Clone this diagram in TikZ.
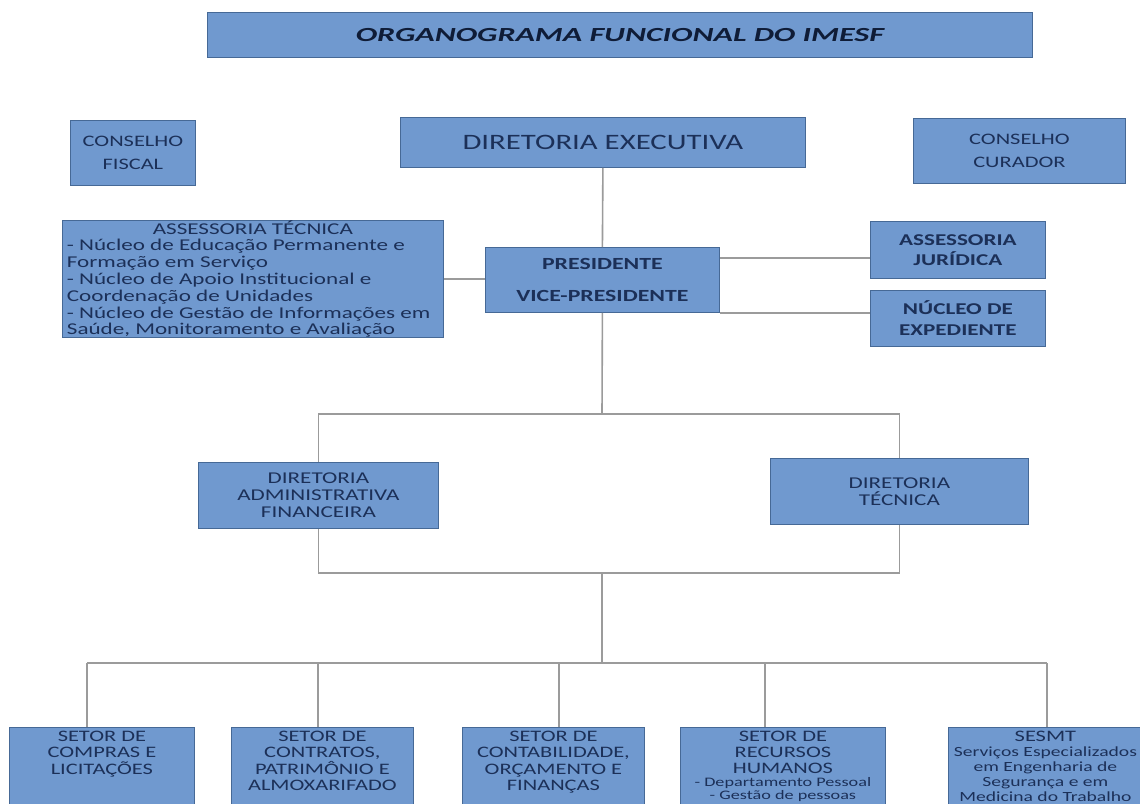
\documentclass[tikz,border=0pt]{standalone}
\usepackage{fontspec}
\setmainfont{Carlito}[FakeStretch=1.4]
\newfontfamily\ttlfont{Carlito}[FakeStretch=1.6]
\usetikzlibrary{calc}
\definecolor{boxfill}{RGB}{112,153,207}
\definecolor{boxline}{RGB}{70,105,150}
\definecolor{txt}{RGB}{28,48,88}
\definecolor{ttl}{RGB}{15,28,55}
\definecolor{conn}{RGB}{155,155,155}
\newcommand{\fs}[2]{\fontsize{#1}{#2}\selectfont}
\begin{document}
\begin{tikzpicture}[x=1pt,y=-1pt,
  bx/.style={draw=boxline, fill=boxfill, line width=0.8pt, inner sep=0pt,
    anchor=north west, text=txt, align=center},
  ln/.style={draw=conn, line width=1.6pt}]
\useasboundingbox (0,0) rectangle (1140,803);
\clip (0,0) rectangle (1140,803);
\fill[white] (0,0) rectangle (1140,803);

% top row
\node[bx, minimum width=825, minimum height=45, text=ttl,
  font=\ttlfont\fs{20}{24}\bfseries\itshape] (title) at (207,12) {ORGANOGRAMA FUNCIONAL DO IMESF};
\node[bx, minimum width=125, minimum height=65, font=\fs{16}{23}] (cf) at (70,120) {CONSELHO\\FISCAL};
\node[bx, minimum width=405, minimum height=50, font=\fs{22}{26}] (de) at (400,117) {DIRETORIA EXECUTIVA};
\node[bx, minimum width=212, minimum height=65, font=\fs{16}{23}] (cc) at (913,118) {CONSELHO\\CURADOR};

% second level
\node[bx, minimum width=381, minimum height=117, font=\fs{16.5}{16.8}] (at) at (62,220)
  {\parbox{372pt}{\centering ASSESSORIA TÉCNICA\par\raggedright
   - Núcleo de Educação Permanente e\\Formação em Serviço\\- Núcleo de Apoio Institucional e\\Coordenação de Unidades\\- Núcleo de Gestão de Informações em\\Saúde, Monitoramento e Avaliação}};
\node[bx, minimum width=234, minimum height=65, font=\fs{17}{20}\bfseries] (pres) at (485,247) {PRESIDENTE\\[12pt]VICE-PRESIDENTE};
\node[bx, minimum width=175, minimum height=57, font=\fs{16.5}{20}\bfseries] (aj) at (870,221) {ASSESSORIA\\JURÍDICA};
\node[bx, minimum width=175, minimum height=56, font=\fs{16.5}{21}\bfseries] (ne) at (870,290) {NÚCLEO DE\\EXPEDIENTE};

% directorates
\node[bx, minimum width=240, minimum height=66, font=\fs{16.5}{17}] (daf) at (198,462) {DIRETORIA\\ADMINISTRATIVA\\FINANCEIRA};
\node[bx, minimum width=258, minimum height=66, font=\fs{16.5}{17}] (dt) at (770,458) {DIRETORIA\\TÉCNICA};

% bottom row
\node[bx, font=\fs{16}{16.5}] (b1) at (9,727)
  {\parbox[c][95pt][t]{185pt}{\centering\vspace*{3.5pt}SETOR DE\\COMPRAS E\\LICITAÇÕES\par}};
\node[bx, font=\fs{16}{16.5}] (b2) at (231,727)
  {\parbox[c][95pt][t]{182pt}{\centering\vspace*{3.5pt}SETOR DE\\CONTRATOS,\\PATRIMÔNIO E\\ALMOXARIFADO\par}};
\node[bx, font=\fs{16}{16.5}] (b3) at (462,727)
  {\parbox[c][95pt][t]{182pt}{\centering\vspace*{3.5pt}SETOR DE\\CONTABILIDADE,\\ORÇAMENTO E\\FINANÇAS\par}};
\node[bx, font=\fs{16}{16.2}] (b4) at (680,727)
  {\parbox[c][95pt][t]{205pt}{\centering\vspace*{3.5pt}SETOR DE\\RECURSOS\\HUMANOS\par
   {\fs{13}{13}- Departamento Pessoal\\- Gestão de pessoas\par}}};
\node[bx, font=\fs{16}{15}] (b5) at (948,727)
  {\parbox[c][95pt][t]{194pt}{\centering\vspace*{3.5pt}SESMT\par
   {\fs{14}{15}Serviços Especializados\\em Engenharia de\\Segurança e em\\Medicina do Trabalho\par}}};

% connectors
\coordinate (ja) at (602,414);
\coordinate (jb) at (602,573);
\coordinate (jc) at (602,663);
\coordinate (ya) at (0,258);
\coordinate (c1) at (87,663);
\coordinate (c2) at (318,663);
\coordinate (c3) at (559,663);
\coordinate (c4) at (765,663);
\coordinate (c5) at (1047,663);

\draw[ln] (de.south) -- (pres.north);
\draw[ln] (pres.south) -- (ja);
\draw[ln] (at.east) -- (at.east -| pres.west);
\draw[ln] (pres.east |- ya) -- (aj.west |- ya);
\draw[ln] (pres.south east) -- (pres.south east -| ne.west);
\draw[ln] (daf.north) -- (daf.north |- ja) -- (dt.north |- ja) -- (dt.north);
\draw[ln] (daf.south) -- (daf.south |- jb) -- (dt.south |- jb) -- (dt.south);
\draw[ln] (jb) -- (jc);
\draw[ln] (c1) -- (c5);
\draw[ln] (c1) -- (c1 |- b1.north);
\draw[ln] (c2) -- (c2 |- b2.north);
\draw[ln] (c3) -- (c3 |- b3.north);
\draw[ln] (c4) -- (c4 |- b4.north);
\draw[ln] (c5) -- (c5 |- b5.north);
\end{tikzpicture}
\end{document}
